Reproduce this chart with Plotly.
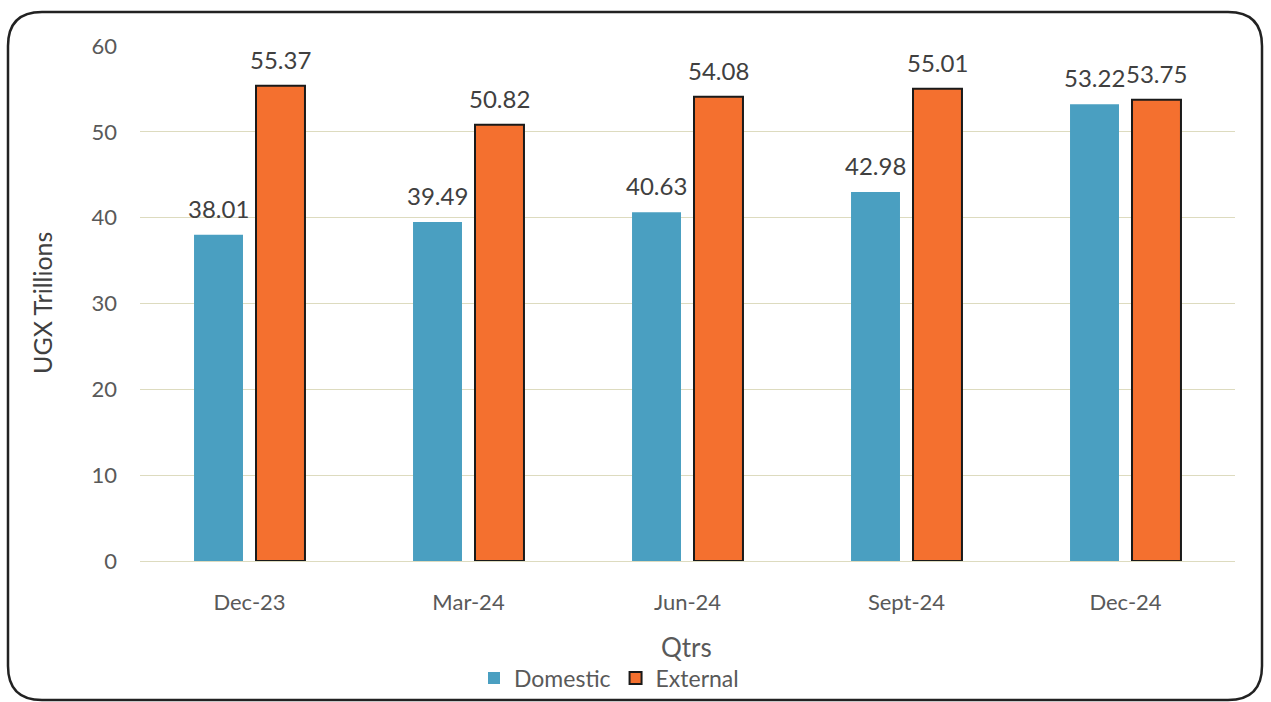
import plotly.graph_objects as go

categories = ["Dec-23", "Mar-24", "Jun-24", "Sept-24", "Dec-24"]
domestic = [38.01, 39.49, 40.63, 42.98, 53.22]
external = [55.37, 50.82, 54.08, 55.01, 53.75]
y_ticks = [0, 10, 20, 30, 40, 50, 60]

FONT = "Lato"
TXT = "#595959"
LBL = "#404040"

fig = go.Figure()
fig.add_trace(go.Bar(
    name="Domestic", x=categories, y=domestic,
    marker=dict(color="#4a9fc1", line=dict(width=0)),
))
fig.add_trace(go.Bar(
    name="External", x=categories, y=external,
    marker=dict(color="#f4702f", line=dict(width=2, color="#1a1a1a")),
))

W, H = 1271, 702
L, R, T, B = 140, 36, 46, 141
pw = W - L - R
ph = H - T - B
bottom_px = T + ph

def px(x):
    return (x - L) / pw

def py(y):
    return (bottom_px - y) / ph

BARGAP = 0.434
slot = pw / len(categories) * (1 - BARGAP) / 2
annotations = []
for vals, sh in ((domestic, -slot / 2), (external, slot / 2)):
    for c, v in zip(categories, vals):
        annotations.append(dict(
            x=c, y=v, xref="x", yref="y", text=f"{v:.2f}", showarrow=False,
            xanchor="center", yanchor="bottom", xshift=sh, yshift=10,
            font=dict(size=24, color=LBL, family=FONT)))

x0, x1, y0, y1 = px(8), px(1262), py(12), py(700)
rx, ry = 34 / pw, 34 / ph
path = (f"M {x0+rx},{y0} L {x1-rx},{y0} Q {x1},{y0} {x1},{y0-ry} "
        f"L {x1},{y1+ry} Q {x1},{y1} {x1-rx},{y1} "
        f"L {x0+rx},{y1} Q {x0},{y1} {x0},{y1+ry} "
        f"L {x0},{y0-ry} Q {x0},{y0} {x0+rx},{y0} Z")

annotations += [
    dict(text="Qtrs", xref="paper", yref="paper", x=px(686), y=py(647),
         xanchor="center", yanchor="middle", showarrow=False,
         font=dict(size=26, color=TXT)),
    dict(text="UGX Trillions", xref="paper", yref="paper", x=px(42), y=py(303),
         xanchor="center", yanchor="middle", showarrow=False, textangle=-90,
         font=dict(size=25, color="#404040")),
]

GRID = "#dddbbf"
fig.update_layout(
    width=W, height=H,
    margin=dict(l=L, r=R, t=T, b=B, autoexpand=False),
    paper_bgcolor="white", plot_bgcolor="white",
    barmode="group", bargap=BARGAP, bargroupgap=0.21,
    font=dict(family=FONT, color=TXT, size=20),
    showlegend=True,
    legend=dict(orientation="h", xref="container", yref="container",
                x=474 / W, xanchor="left", y=1 - 678 / H, yanchor="middle",
                font=dict(size=23, color=TXT), itemwidth=30, tracegroupgap=0,
                bgcolor="rgba(0,0,0,0)"),
    xaxis=dict(tickfont=dict(size=22, color=TXT), showgrid=False, showline=False,
               ticks="", ticklabelstandoff=26),
    yaxis=dict(range=[0, 60], tickvals=y_ticks, tickfont=dict(size=22, color=TXT),
               showgrid=True, gridcolor=GRID, gridwidth=1,
               zeroline=True, zerolinecolor=GRID, zerolinewidth=1,
               ticks="", ticklabelstandoff=22),
    shapes=[dict(type="path", xref="paper", yref="paper", path=path,
                 line=dict(color="#222222", width=2.5), fillcolor="rgba(0,0,0,0)",
                 layer="above")],
    annotations=annotations,
)

fig.write_html("out.html")
